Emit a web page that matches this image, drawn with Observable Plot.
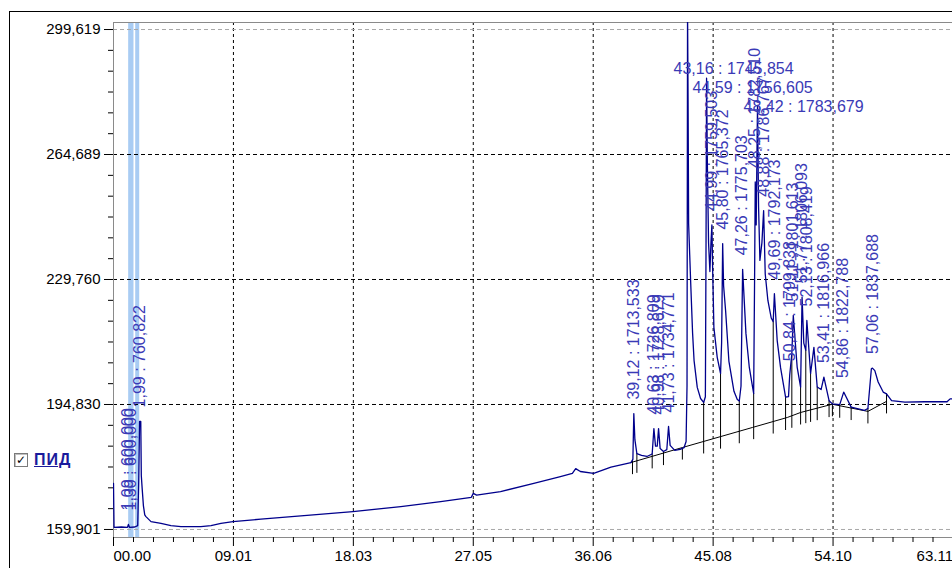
<!DOCTYPE html>
<html><head><meta charset="utf-8">
<script src="https://cdn.jsdelivr.net/npm/d3@7"></script>
<script src="https://cdn.jsdelivr.net/npm/@observablehq/plot@0.6"></script>
<style>
body{margin:0;background:#fff;overflow:hidden;}
#wrap{position:relative;width:952px;height:568px;overflow:hidden;background:#fff;}
#box{position:absolute;left:9px;top:11px;width:2000px;height:2000px;border:1px solid #000;pointer-events:none;}
#legend{position:absolute;left:14px;top:451px;display:flex;align-items:center;font:bold 16px Arial,"Liberation Sans",sans-serif;color:#1a1a9c;}
#legend .cb{display:inline-block;width:12px;height:12px;border:1px solid #7a7a7a;background:#fff;font:bold 12px "DejaVu Sans",sans-serif;line-height:12px;text-align:center;color:#000;margin-right:6px;box-shadow:inset 1px 1px 0 #c0c0c0;}
#legend .t{text-decoration:underline;letter-spacing:1px;}
svg{position:absolute;left:0;top:0;}
</style></head>
<body><div id="wrap"><div id="box"></div><div id="legend"><span class="cb">✓</span><span class="t">ПИД</span></div></div>
<script>
// ---- axis ticks ----
const xMajor = [0, 9.0167, 18.0333, 27.05, 36.0667, 45.0833, 54.1, 63.1167];
const xMajorLabels = ["00.00","09.01","18.03","27.05","36.06","45.08","54.10","63.11"];
const yMajor = [159.901, 194.830, 229.760, 264.689, 299.619];
const yMajorLabels = ["159,901","194,830","229,760","264,689","299,619"];

// ---- chromatogram trace (time, min ; signal) ----
const time = [0.00,0.04,0.60,1.05,1.12,1.20,1.60,1.82,1.90,1.96,2.05,2.09,2.16,2.25,2.35,2.44,2.82,3.57,4.32,5.07,6.57,7.33,8.08,8.98,11.08,14.09,18.00,21.60,24.60,26.90,27.05,27.30,29.10,31.60,33.60,34.50,34.75,35.10,36.10,37.40,38.90,39.05,39.12,39.20,39.35,39.70,40.10,40.50,40.63,40.75,40.88,40.98,41.10,41.35,41.60,41.73,41.85,42.20,42.60,42.90,43.05,43.12,43.16,43.20,43.24,43.39,43.54,43.65,43.89,44.14,44.37,44.50,44.55,44.59,44.65,44.74,44.84,44.92,44.99,45.05,45.14,45.39,45.64,45.72,45.80,45.87,46.02,46.27,46.65,46.90,47.05,47.18,47.30,47.55,47.80,48.05,48.13,48.20,48.25,48.32,48.42,48.50,48.60,48.75,48.88,49.00,49.20,49.45,49.60,49.69,49.90,50.15,50.53,50.75,50.84,51.00,51.11,51.40,51.66,51.77,51.90,52.05,52.13,52.41,52.66,52.91,53.20,53.41,53.80,54.05,54.60,54.90,55.46,56.46,56.72,56.98,57.06,57.24,57.49,57.87,58.12,58.50,59.50,61.00,62.67,62.90,63.08];
const signal = [172.8,160.5,160.6,160.5,161.3,160.5,160.6,161.0,174.0,190.1,190.1,175.0,171.1,166.5,164.0,163.5,162.1,161.6,161.0,160.7,160.7,161.0,161.6,162.1,162.8,163.7,164.9,166.3,167.7,168.9,170.0,169.5,170.5,172.8,174.7,175.6,176.9,176.1,175.6,177.3,178.6,179.5,192.3,185.0,181.1,180.6,180.3,181.0,188.1,183.2,183.2,188.1,182.5,181.7,182.2,188.7,183.4,182.0,182.3,182.8,184.5,200.0,305.0,280.0,245.4,229.5,214.7,207.1,199.6,196.5,195.4,197.0,240.0,286.0,262.0,240.0,232.0,240.0,245.0,232.0,216.4,208.0,203.5,212.0,239.8,228.0,221.1,206.9,198.5,196.2,195.8,200.0,232.6,214.7,205.3,199.7,197.9,230.0,257.0,245.0,278.4,250.0,235.1,240.0,249.0,231.3,223.9,219.0,218.0,225.8,212.7,205.2,196.9,197.0,203.0,209.0,219.7,205.3,199.7,224.8,212.0,210.0,218.3,203.5,210.8,199.7,199.0,202.5,195.9,195.0,194.8,198.3,194.1,193.2,193.7,204.8,205.0,204.3,201.1,198.3,197.8,195.9,195.5,195.6,195.6,196.4,196.4];

// ---- integration baseline (time ; signal) ----
const baseTime = [38.90, 42.77, 48.03, 50.66, 51.66, 54.04, 56.72, 58.12];
const baseSignal = [178.6, 182.8, 188.4, 191.2, 192.6, 194.9, 192.9, 195.7];
// peak boundaries (drop lines)
const boundTimes = [39.02, 39.35, 40.50, 41.35, 42.77, 44.37, 45.64, 47.05, 48.13, 49.60, 50.53, 51.00, 51.66, 52.05, 52.41, 52.91, 53.80, 54.05, 54.60, 55.46, 56.72, 58.12];

// ---- highlighted peaks (time range) ----
const bandStart = [1.14, 1.67];
const bandEnd = [1.54, 1.97];

// ---- peak labels ----
const labelTime = [1.09, 1.30, 1.99, 39.12, 40.63, 40.98, 41.73, 44.99, 45.80, 47.26, 48.25, 48.88, 49.69, 50.84, 51.11, 51.77, 52.13, 53.41, 54.86, 57.06];
const labelTop  = [161.3, 161.3, 190.1, 192.3, 188.1, 188.1, 188.7, 245.0, 239.8, 232.6, 257.0, 249.0, 225.8, 203.0, 219.7, 224.8, 218.3, 202.5, 198.3, 205.0];
const labelText = ["1,09 : 600,000","1,30 : 600,000","1,99 : 760,822","39,12 : 1713,533","40,63 : 1726,809","40,98 : 1728,679","41,73 : 1734,771","44,99 : 1759,503","45,80 : 1765,372","47,26 : 1775,703","48,25 : 1782,510","48,88 : 1786,767","49,69 : 1792,173","50,84 : 1799,838","51,11 : 1801,613","51,77 : 1806,093","52,13 : 1808,419","53,41 : 1816,966","54,86 : 1822,788","57,06 : 1837,688"];
// tall peaks labelled horizontally
const topLabelTime = [43.16, 44.59, 48.42];
const topLabelText = ["43,16 : 1745,854","44,59 : 1756,605","48,42 : 1783,679"];

// ---- build ----
const trace = time.map((t, i) => ({t, v: signal[i]}));
const base = baseTime.map((t, i) => ({t, v: baseSignal[i]}));
const interp = (xs, ys, t) => {
  const i = Math.max(1, Math.min(xs.length - 1, d3.bisectLeft(xs, t)));
  const a = xs[i-1], b = xs[i], f = (t - a) / (b - a);
  return ys[i-1] + f * (ys[i] - ys[i-1]);
};
const bounds = boundTimes.map(t => ({t, top: interp(time, signal, t), base: interp(baseTime, baseSignal, t)}));
const bands = bandStart.map((s, i) => ({s, e: bandEnd[i]}));
const labels = labelTime.map((t, i) => ({t, v: labelTop[i], text: labelText[i]}));

const xDomain = [0, 63.08], yDomain = [157.66, 301.58];
const step = (xMajor[1] - xMajor[0]) / 6;
const xMinor = d3.range(0, 7 * 6 + 1).filter(k => k % 6 !== 0).map(k => k * step).filter(d => d <= xDomain[1]);
const ystep = (yMajor[1] - yMajor[0]) / 6;
const yMinor = d3.range(-2, 4 * 6 + 3).filter(k => k % 6 !== 0).map(k => yMajor[0] + k * ystep).filter(d => d >= yDomain[0] && d <= yDomain[1]);
const xLab = xMajor.map((x, i) => ({x, text: xMajorLabels[i]}));
const yFmt = new Map(yMajor.map((y, i) => [y, yMajorLabels[i]]));

const labelColor = "#3a3ab6";
const font = "Arial, 'Liberation Sans', sans-serif";

const topLabelMarks = topLabelTime.map((t, i) =>
  Plot.text([{t, text: topLabelText[i]}], {x: "t", text: "text", frameAnchor: "top", dy: 40 + 19 * i, textAnchor: "start", dx: -14, fill: labelColor, fontSize: 16, fontFamily: font})
);

const chart = Plot.plot({
  width: 952, height: 568,
  marginLeft: 113, marginRight: 0, marginTop: 22, marginBottom: 31,
  style: {fontFamily: font, fontSize: "15px", background: "transparent", overflow: "visible"},
  x: {domain: xDomain, axis: null},
  y: {domain: yDomain, axis: null},
  marks: [
    Plot.rect(bands, {x1: "s", x2: "e", fill: "#a9ccf3"}),
    Plot.ruleX(xMajor.slice(1, -1), {stroke: "#000", strokeDasharray: "3,3", strokeWidth: 1}),
    Plot.ruleY(yMajor.slice(1, -1), {stroke: "#000", strokeDasharray: "4,3", strokeWidth: 1}),
    Plot.ruleY([yMajor[0], yMajor[4]], {stroke: "#a8a8a8", strokeDasharray: "4,3"}),
    Plot.frame({stroke: "#8a8a8a"}),
    Plot.line(base, {x: "t", y: "v", stroke: "#000", strokeWidth: 1}),
    Plot.ruleX(bounds, {x: "t", y1: "top", y2: d => d.base - 3.5, stroke: "#000", strokeWidth: 1}),
    Plot.line(trace, {x: "t", y: "v", stroke: "#00008c", strokeWidth: 1.3, clip: true}),
    Plot.text(labels, {x: "t", y: "v", text: "text", rotate: -90, textAnchor: "start", dy: -14, fill: labelColor, fontSize: 16, fontFamily: font}),
    ...topLabelMarks,
    Plot.axisY(yMajor, {anchor: "left", tickSize: 9, tickPadding: 4, tickFormat: d => yFmt.get(d), label: null, fontSize: 15, stroke: "#000"}),
    Plot.axisY(yMinor, {anchor: "left", tickSize: 5, tickFormat: () => "", label: null, stroke: "#000"}),
    Plot.axisX(xMajor, {anchor: "bottom", tickSize: 9, tickFormat: () => "", label: null, stroke: "#000"}),
    Plot.axisX(xMinor, {anchor: "bottom", tickSize: 5, tickFormat: () => "", label: null, stroke: "#000"}),
    Plot.text(xLab.slice(1, -1), {x: "x", text: "text", frameAnchor: "bottom", dy: 23, fontSize: 15, fill: "#000"}),
    Plot.text(xLab.slice(0, 1), {x: "x", text: "text", frameAnchor: "bottom", dy: 23, textAnchor: "start", fontSize: 15, fill: "#000"}),
    Plot.text(xLab.slice(-1), {x: "x", text: "text", frameAnchor: "bottom", dy: 23, textAnchor: "end", fontSize: 15, fill: "#000"})
  ]
});
document.getElementById("wrap").appendChild(chart);
</script>
</body></html>
